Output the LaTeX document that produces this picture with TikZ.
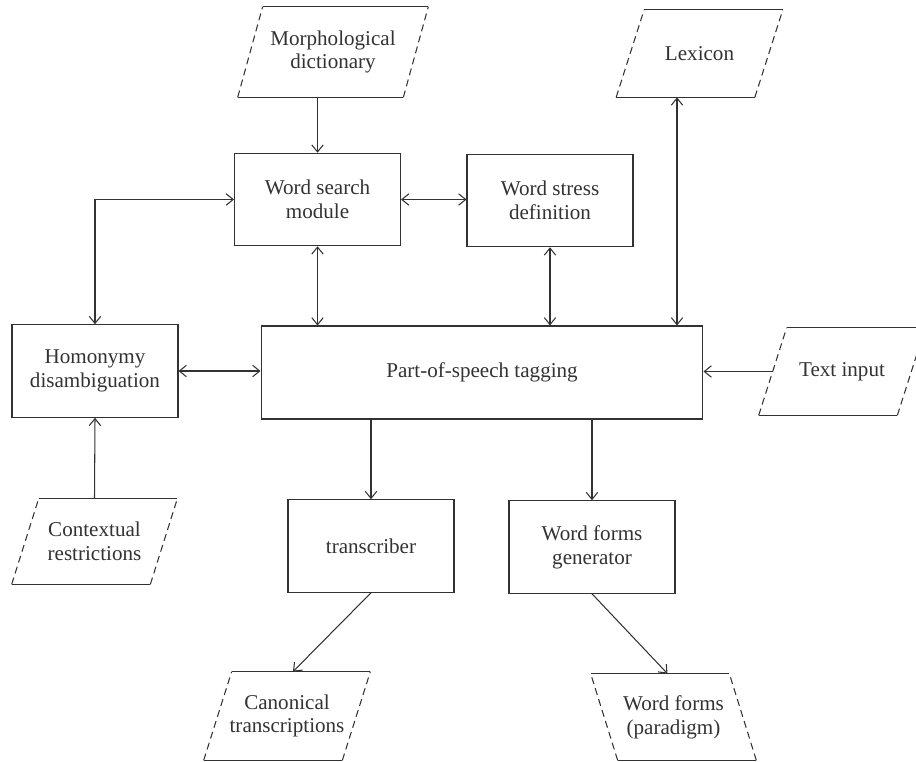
\documentclass[tikz,border=0pt]{standalone}
\usepackage{fontspec}
\setmainfont{Liberation Serif}
\usetikzlibrary{arrows.meta,calc}
\definecolor{inkgray}{RGB}{50,50,50}

\begin{document}
\begin{tikzpicture}[x=0.02cm, y=-0.02cm,
    every node/.style={font=\fontsize{12}{13.5}\selectfont, text=inkgray, align=center},
    box/.style={draw=inkgray, line width=0.6pt, minimum width=3.32cm, minimum height=1.85cm},
    data/.style={minimum width=2.76cm, minimum height=1.74cm},
    iodash/.style={dash pattern=on 4pt off 2.5pt},
    flow/.style={draw=inkgray, line width=0.6pt, -{Straight Barb[length=4pt,width=6.5pt]}},
    dflow/.style={flow, {Straight Barb[length=4pt,width=6.5pt]}-{Straight Barb[length=4pt,width=6.5pt]}}]
            \useasboundingbox (0,0) rectangle (916,761);

            % Data sources and outputs
            \node[data, minimum width=3.3cm, minimum height=1.8cm] (morph) at (333,52) {Morphological\\dictionary};
            \node[data] (lex) at (699.5,53.5) {Lexicon};
            \node[data] (txt) at (842,371.5) {Text input};
            \node[data, minimum height=1.7cm] (ctx) at (94.5,541.5) {Contextual\\restrictions};
            \node[data, minimum height=1.76cm] (canon) at (287,716) {Canonical\\transcriptions};
            \node[data, minimum height=1.72cm] (par) at (673.5,717) {Word forms\\(paradigm)};

            % Solid top and bottom, dashed slanted sides
            \foreach \n/\s in {morph/0.25, lex/0.28, txt/0.28, ctx/0.27, canon/0.28, par/-0.27} {
                \draw[inkgray, line width=0.6pt] ([xshift={\s*1cm}]\n.north west) -- ([xshift={\s*1cm}]\n.north east);
                \draw[inkgray, line width=0.6pt] ([xshift={-1*\s*1cm}]\n.south west) -- ([xshift={-1*\s*1cm}]\n.south east);
                \draw[inkgray, line width=0.6pt, iodash] ([xshift={-1*\s*1cm}]\n.south west) -- ([xshift={\s*1cm}]\n.north west);
                \draw[inkgray, line width=0.6pt, iodash] ([xshift={-1*\s*1cm}]\n.south east) -- ([xshift={\s*1cm}]\n.north east);
            }

            % Processing modules
            \node[box] (wsm) at (317.5,199.5) {Word search\\module};
            \node[box] (wsd) at (550,200.5) {Word stress\\definition};
            \node[box] (hom) at (95,371) {Homonymy\\disambiguation};
            \node[box, minimum width=8.84cm, minimum height=1.86cm] (pos) at (482,372.5) {Part-of-speech tagging};
            \node[box] (trans) at (371,546) {transcriber};
            \node[box] (wfg) at (592,547) {Word forms\\generator};

            % Arrows
            \draw[flow] (wsm.north |- morph.south) -- (wsm.north);
            \draw[dflow] (wsm.west) -| (hom.north);
            \draw[dflow] (wsm.east) -- (wsm.east -| wsd.west);
            \draw[dflow] (wsm.south) -- (wsm.south |- pos.north);
            \draw[dflow] (wsd.south) -- (wsd.south |- pos.north);
            \draw[dflow] ([xshift=-0.45cm]lex.south) -- ([xshift=-0.45cm]lex.south |- pos.north);
            \draw[dflow] (hom.east) -- (hom.east -| pos.west);
            \draw[flow] (txt.west) -- (txt.west -| pos.east);
            \draw[flow] (ctx.north) -- (hom.south);
            \draw[flow] (pos.south -| trans.north) -- (trans.north);
            \draw[flow] (pos.south -| wfg.north) -- (wfg.north);
            \draw[flow] (trans.south) -- ([xshift=0.12cm]canon.north);
            \draw[flow] (wfg.south) -- ([xshift=-0.12cm]par.north);
        \end{tikzpicture}
\end{document}
